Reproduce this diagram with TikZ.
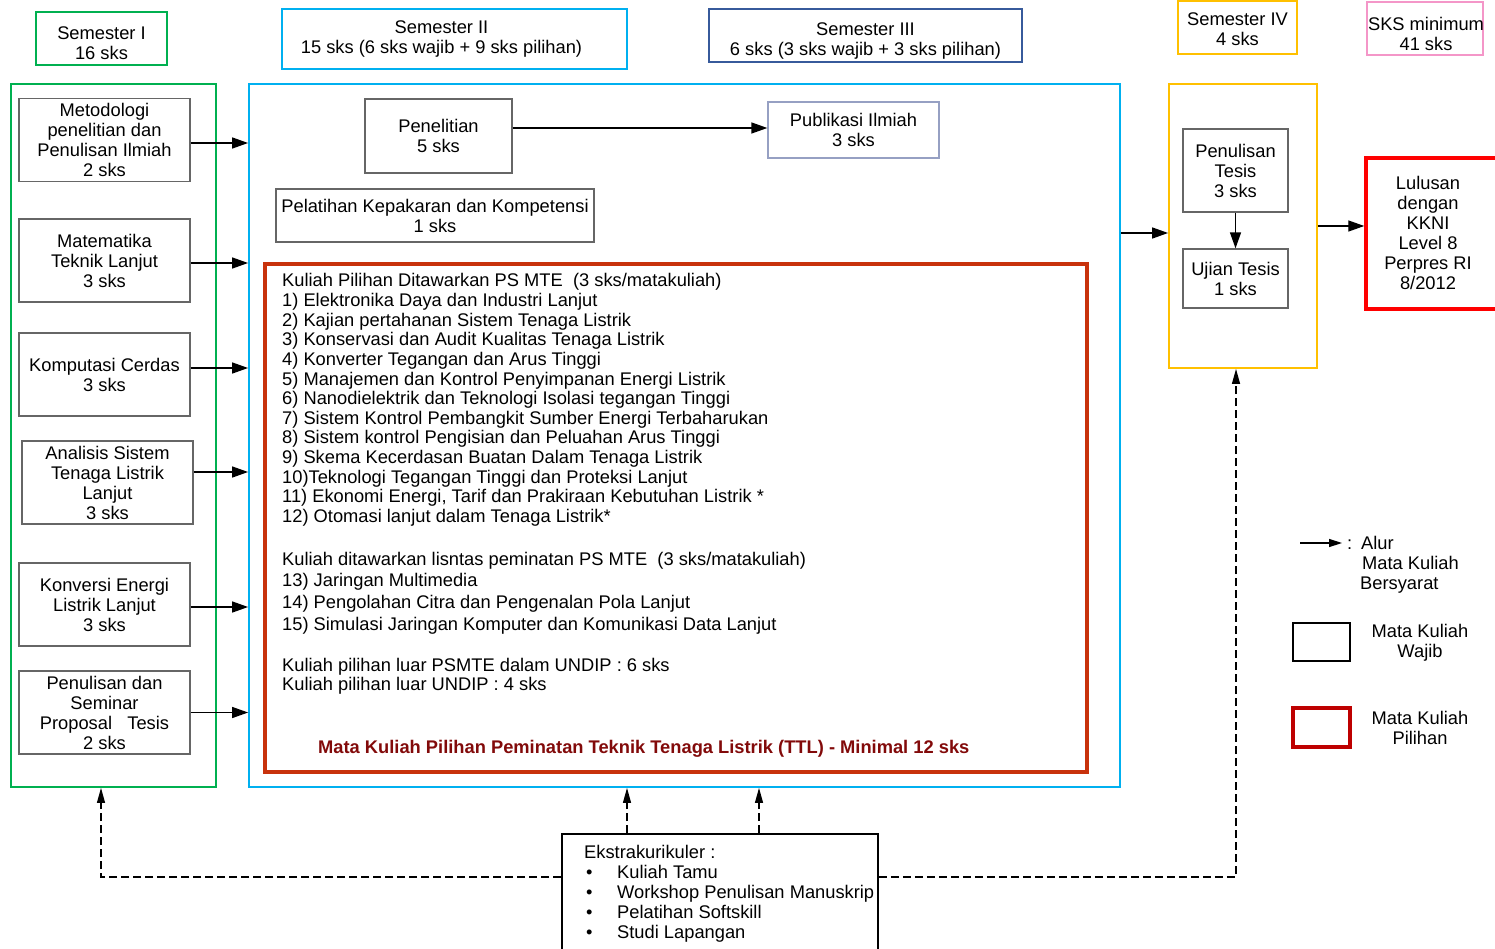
\documentclass[tikz,border=0pt]{standalone}
\usepackage{fontspec}
\setmainfont{Liberation Sans}
\usetikzlibrary{arrows.meta}
\definecolor{semgreen}{RGB}{0,176,80}
\definecolor{semcyan}{RGB}{0,176,240}
\definecolor{semblue}{RGB}{55,90,155}
\definecolor{semgold}{RGB}{255,192,0}
\definecolor{sempink}{RGB}{244,150,200}
\definecolor{pilred}{RGB}{200,50,12}
\definecolor{ttlred}{RGB}{130,10,10}
\definecolor{lulusred}{RGB}{255,0,0}
\definecolor{legred}{RGB}{190,0,0}
\definecolor{pubgray}{RGB}{150,160,195}

\begin{document}
\begin{tikzpicture}[x=1pt,y=-1pt,font=\fontsize{18.3}{20}\selectfont]
    %
    % `sem' is used for the semester headers, `group' for the big frames.
    % `course' is used for the compulsory courses (gray boxes).
    % `flow' and `extra' are the arrows.
    \tikzstyle{sem} = [draw,line width=1.8pt,inner sep=0pt]
    \tikzstyle{group} = [draw,line width=1.8pt,inner sep=0pt]
    \tikzstyle{course} = [draw=black!60,line width=1.3pt,align=center,inner sep=0pt,minimum width=171pt,minimum height=83pt]
    \tikzstyle{flow} = [-{Triangle[length=16pt,width=11pt]},line width=1.4pt]
    \tikzstyle{extra} = [-{Triangle[length=15pt,width=8pt]},line width=1.2pt,dash pattern=on 8pt off 4pt]
    \tikzstyle{line} = [anchor=base west,inner sep=0pt]
    %
    \useasboundingbox (0,0) rectangle (1495,949);
    %
    % Semester headers
    \node[sem,draw=semgreen,minimum width=131pt,minimum height=53pt,
        label={[align=center,shift={(0,5)}]center:Semester I\\16 sks}] (sem1) at (101.5,38.5) {};
    \node[sem,draw=semcyan,minimum width=345pt,minimum height=60pt,
        label={[align=center,shift={(-13,0)}]center:Semester II\\15 sks (6 sks wajib + 9 sks pilihan)}] (sem2) at (454.5,39) {};
    \node[sem,draw=semblue,minimum width=313pt,minimum height=53pt,
        label={[align=center,shift={(0,6)}]center:Semester III\\6 sks (3 sks wajib + 3 sks pilihan)}] (sem3) at (865.5,35.5) {};
    \node[sem,draw=semgold,minimum width=119pt,minimum height=53pt,
        label={[align=center,shift={(0,2)}]center:Semester IV\\4 sks}] (sem4) at (1237.5,27.5) {};
    \node[sem,draw=sempink,minimum width=116pt,minimum height=53pt,
        label={[align=center,shift={(1,5)}]center:SKS minimum\\41 sks}] (sksmin) at (1425,28.5) {};
    %
    % Frames
    \node[group,draw=semgreen,minimum width=205pt,minimum height=703pt] (grp1) at (113.5,435.5) {};
    \node[group,draw=semcyan,minimum width=871pt,minimum height=703pt] (grp2) at (684.5,435.5) {};
    \node[group,draw=semgold,minimum width=148pt,minimum height=284pt] (grp4) at (1243,226) {};
    %
    % Semester I
    \node[course] (mk1) at (104.5,140) {Metodologi\\penelitian dan\\Penulisan Ilmiah\\2 sks};
    \node[course] (mk2) at (104.5,260.5) {Matematika\\Teknik Lanjut\\3 sks};
    \node[course] (mk3) at (104.5,374.5) {Komputasi Cerdas\\3 sks};
    \node[course] (mk4) at (107.5,482.5) {Analisis Sistem\\Tenaga Listrik\\Lanjut\\3 sks};
    \node[course] (mk5) at (104.5,604.5) {Konversi Energi\\Listrik Lanjut\\3 sks};
    \node[course] (mk6) at (104.5,712.5) {Penulisan dan\\Seminar\\Proposal\ \ \ Tesis\\2 sks};
    \draw[flow] ([yshift=-3]mk1.east) -- ([yshift=-3]mk1.east -| grp2.west);
    \draw[flow] ([yshift=-2.5]mk2.east) -- ([yshift=-2.5]mk2.east -| grp2.west);
    \draw[flow] ([yshift=6.5]mk3.east) -- ([yshift=6.5]mk3.east -| grp2.west);
    \draw[flow] ([yshift=10.5]mk4.east) -- ([yshift=10.5]mk4.east -| grp2.west);
    \draw[flow] ([yshift=-2.5]mk5.east) -- ([yshift=-2.5]mk5.east -| grp2.west);
    \draw[flow] (mk6.east) -- (mk6.east -| grp2.west);
    %
    % Semester II and III
    \node[course,minimum width=147pt,minimum height=74pt] (pen) at (438.5,136) {Penelitian\\5 sks};
    \node[course,draw=pubgray,minimum width=171pt,minimum height=56pt] (pub) at (853.5,130) {Publikasi Ilmiah\\3 sks};
    \draw[flow] ([yshift=8]pen.east) -- ([yshift=8]pen.east -| pub.west);
    \node[course,minimum width=318pt,minimum height=53pt] (latih) at (435,215.5) {Pelatihan Kepakaran dan Kompetensi\\1 sks};
    %
    % Elective courses
    \node[draw=pilred,line width=3.5pt,minimum width=822pt,minimum height=508pt] (pil) at (676,518) {};
    \foreach \txt [count=\i from 0] in {Kuliah Pilihan Ditawarkan PS MTE\ \ (3 sks/matakuliah),
        1) Elektronika Daya dan Industri Lanjut,
        2) Kajian pertahanan Sistem Tenaga Listrik,
        3) Konservasi dan Audit Kualitas Tenaga Listrik,
        4) Konverter Tegangan dan Arus Tinggi,
        5) Manajemen dan Kontrol Penyimpanan Energi Listrik,
        6) Nanodielektrik dan Teknologi Isolasi tegangan Tinggi,
        7) Sistem Kontrol Pembangkit Sumber Energi Terbaharukan,
        8) Sistem kontrol Pengisian dan Peluahan Arus Tinggi,
        9) Skema Kecerdasan Buatan Dalam Tenaga Listrik,
        10)Teknologi Tegangan Tinggi dan Proteksi Lanjut,
        {11) Ekonomi Energi, Tarif dan Prakiraan Kebutuhan Listrik *},
        12) Otomasi lanjut dalam Tenaga Listrik*}
        \node[line] (pl\i) at (282,287+19.6*\i) {\txt};
    \foreach \txt [count=\i from 0] in {Kuliah ditawarkan lisntas peminatan PS MTE\ \ (3 sks/matakuliah),
        13) Jaringan Multimedia,
        14) Pengolahan Citra dan Pengenalan Pola Lanjut,
        15) Simulasi Jaringan Komputer dan Komunikasi Data Lanjut}
        \node[line] (lp\i) at (282,565+21.7*\i) {\txt};
    \node[line] (luar1) at (282,671) {Kuliah pilihan luar PSMTE dalam UNDIP : 6 sks};
    \node[line] (luar2) at (282,690.6) {Kuliah pilihan luar UNDIP : 4 sks};
    \node[line,text=ttlred,font=\fontsize{18.3}{20}\selectfont\bfseries] (ttl) at (318,753) {Mata Kuliah Pilihan Peminatan Teknik Tenaga Listrik (TTL) - Minimal 12 sks};
    %
    % Semester IV
    \node[course,minimum width=105pt,minimum height=83pt] (tesis) at (1235.5,170.5) {Penulisan\\Tesis\\3 sks};
    \node[course,minimum width=105pt,minimum height=59pt] (ujian) at (1235.5,278.5) {Ujian Tesis\\1 sks};
    \draw[flow] (tesis.south) -- (ujian.north);
    \draw[flow] ([yshift=-7]grp4.west -| grp2.east) -- ([yshift=-7]grp4.west);
    %
    % Graduate
    \node[draw=lulusred,line width=3.5pt,minimum width=170pt,minimum height=151pt] (lulus) at (1451,233.5) {};
    \node[align=center] (luluslbl) at (1428,233) {Lulusan\\dengan\\KKNI\\Level 8\\Perpres RI\\8/2012};
    \draw[flow] (grp4.east) -- (grp4.east -| lulus.west);
    %
    % Legend
    \coordinate (alurA) at (1300,543);
    \coordinate (alurB) at (1342,543);
    \draw[-{Triangle[length=13pt,width=8pt]},line width=1.4pt] (alurA) -- (alurB);
    \node[align=left,anchor=north west,inner sep=0pt] (alur) at (1347,536) {\makebox[14pt][l]{:}Alur\\\hspace*{15pt}Mata Kuliah\\\hspace*{13pt}Bersyarat};
    \node[draw,line width=2pt,minimum width=57pt,minimum height=38pt] (legwajib) at (1321.5,642) {};
    \node[align=center] (wajiblbl) at (1420,643) {Mata Kuliah\\Wajib};
    \node[draw=legred,line width=3.5pt,minimum width=57pt,minimum height=39pt] (legpil) at (1321.5,727.5) {};
    \node[align=center] (pillbl) at (1420,728) {Mata Kuliah\\Pilihan};
    %
    % Extracurricular
    \node[draw,line width=1.8pt,minimum width=316pt,minimum height=160pt,anchor=north] (eks) at (720,833) {};
    \node[align=left,anchor=north west,inner sep=0pt] (ekslbl) at (584,845) {Ekstrakurikuler :\\
        \hspace*{2pt}\makebox[31pt][l]{\textbullet}Kuliah Tamu\\
        \hspace*{2pt}\makebox[31pt][l]{\textbullet}Workshop Penulisan Manuskrip\\
        \hspace*{2pt}\makebox[31pt][l]{\textbullet}Pelatihan Softskill\\
        \hspace*{2pt}\makebox[31pt][l]{\textbullet}Studi Lapangan};
    \draw[extra] ([xshift=-93]eks.north) -- ([xshift=-93]eks.north |- grp2.south);
    \draw[extra] ([xshift=39]eks.north) -- ([xshift=39]eks.north |- grp2.south);
    \draw[extra] ([yshift=-44]eks.north west) -| ([xshift=-12.5]grp1.south);
    \draw[extra] ([yshift=-44]eks.north east) -| ([xshift=-7]grp4.south);
    %
\end{tikzpicture}
\end{document}
